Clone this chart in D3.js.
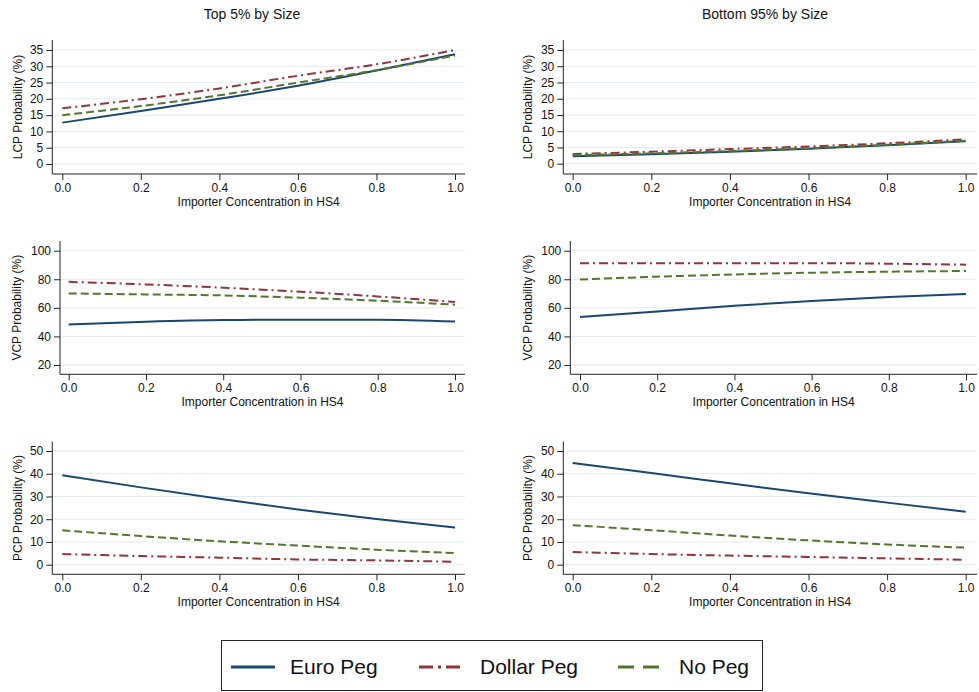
<!DOCTYPE html>
<html>
<head>
<meta charset="utf-8">
<script src="https://cdn.jsdelivr.net/npm/d3@7"></script>
<style>
  body { margin: 0; background: #fff; }
  svg { font-family: "Liberation Sans", Arial, sans-serif; }
</style>
</head>
<body>
<div id="chart"></div>
<script>
// x grid shared by every panel
var concentration = [0, 0.2, 0.4, 0.6, 0.8, 1.0];

// LCP, top 5% / bottom 95%
var lcpTopEuro   = [12.7, 16.3, 20.0, 24.0, 28.7, 33.7];
var lcpTopDollar = [17.1, 19.9, 23.2, 27.1, 30.6, 35.0];
var lcpTopNone   = [15.0, 17.8, 21.1, 25.0, 28.8, 33.3];
var lcpBotEuro   = [2.3, 2.9, 3.7, 4.6, 5.7, 6.9];
var lcpBotDollar = [3.0, 3.7, 4.5, 5.3, 6.3, 7.5];
var lcpBotNone   = [2.6, 3.2, 3.9, 4.8, 5.8, 7.1];

// VCP
var vcpTopEuro   = [48.3, 50.3, 51.5, 51.7, 51.7, 50.4];
var vcpTopDollar = [78.2, 76.4, 74.1, 71.3, 68.0, 64.1];
var vcpTopNone   = [70.1, 69.4, 68.7, 67.1, 65.0, 62.2];
var vcpBotEuro   = [53.6, 57.5, 61.5, 64.8, 67.6, 69.7];
var vcpBotDollar = [91.3, 91.3, 91.3, 91.3, 90.9, 90.2];
var vcpBotNone   = [79.9, 81.8, 83.4, 84.6, 85.3, 85.8];

// PCP
var pcpTopEuro   = [39.3, 34.0, 29.0, 24.3, 20.1, 16.3];
var pcpTopDollar = [4.7, 3.8, 3.1, 2.3, 1.9, 1.3];
var pcpTopNone   = [15.1, 12.6, 10.3, 8.4, 6.6, 5.1];
var pcpBotEuro   = [44.7, 40.3, 35.8, 31.4, 27.3, 23.3];
var pcpBotDollar = [5.6, 4.7, 4.0, 3.4, 2.8, 2.2];
var pcpBotNone   = [17.4, 15.2, 12.8, 10.7, 8.9, 7.5];

// tick values
var xTicks   = [0, 0.2, 0.4, 0.6, 0.8, 1.0];
var lcpTicks = [0, 5, 10, 15, 20, 25, 30, 35];
var vcpTicks = [20, 40, 60, 80, 100];
var pcpTicks = [0, 10, 20, 30, 40, 50];

var seriesNames = ['Euro Peg', 'Dollar Peg', 'No Peg'];
var columnTitles = ['Top 5% by Size', 'Bottom 95% by Size'];
var xTitle = 'Importer Concentration in HS4';

// styles
var colors = {'Euro Peg': '#1a476f', 'Dollar Peg': '#90353b', 'No Peg': '#55752f'};
var dashes = {'Euro Peg': null, 'Dollar Peg': '9,4,2,4', 'No Peg': '8,4'};

var W = 979, H = 692;
var svg = d3.select('#chart').append('svg')
    .attr('width', W)
    .attr('height', H);

/* panel geometry: axis x, x range, y mapping of first/last tick, plot box */
var panels = [
  {title: 'LCP Probability (%)', ticks: lcpTicks, ax: 52.3, x0: 62.3, x1: 455, right: 465,
   yb: 164, yt: 50, top: 40, bottom: 174, titleX: 18,
   data: [lcpTopEuro, lcpTopDollar, lcpTopNone]},
  {title: 'LCP Probability (%)', ticks: lcpTicks, ax: 563.3, x0: 572.7, x1: 965.7, right: 977,
   yb: 163.7, yt: 50, top: 40, bottom: 174, titleX: 528,
   data: [lcpBotEuro, lcpBotDollar, lcpBotNone]},
  {title: 'VCP Probability (%)', ticks: vcpTicks, ax: 60, x0: 68.7, x1: 455, right: 465,
   yb: 365, yt: 250.7, top: 241, bottom: 374.3, titleX: 17,
   data: [vcpTopEuro, vcpTopDollar, vcpTopNone]},
  {title: 'VCP Probability (%)', ticks: vcpTicks, ax: 570.3, x0: 580, x1: 966, right: 977,
   yb: 365, yt: 250.7, top: 241, bottom: 374.3, titleX: 528,
   data: [vcpBotEuro, vcpBotDollar, vcpBotNone]},
  {title: 'PCP Probability (%)', ticks: pcpTicks, ax: 52.3, x0: 62.3, x1: 455, right: 465,
   yb: 564.7, yt: 451, top: 441.7, bottom: 574.3, titleX: 18,
   data: [pcpTopEuro, pcpTopDollar, pcpTopNone]},
  {title: 'PCP Probability (%)', ticks: pcpTicks, ax: 563.3, x0: 572.7, x1: 965.7, right: 977,
   yb: 564.7, yt: 451, top: 441.7, bottom: 574.3, titleX: 528,
   data: [pcpBotEuro, pcpBotDollar, pcpBotNone]}
];

// column titles
svg.selectAll('.col-title')
    .data(columnTitles)
    .enter().append('text')
    .attr('class', 'col-title')
    .attr('x', function(d, i) { return i === 0 ? 252 : 765; })
    .attr('y', 19)
    .attr('text-anchor', 'middle')
    .style('font-size', '14px')
    .attr('fill', '#111')
    .text(function(d) { return d; });

panels.forEach(function(p) {
    var x = d3.scaleLinear().domain([0, 1]).range([p.x0, p.x1]);
    var y = d3.scaleLinear()
        .domain([p.ticks[0], p.ticks[p.ticks.length - 1]])
        .range([p.yb, p.yt]);

    var g = svg.append('g');

    // gridlines
    g.selectAll('.grid')
        .data(p.ticks)
        .enter().append('line')
        .attr('x1', p.ax).attr('x2', p.right)
        .attr('y1', function(d) { return y(d); })
        .attr('y2', function(d) { return y(d); })
        .attr('stroke', '#e4ebef')
        .attr('stroke-width', 1);

    /* y axis */
    var yAxis = d3.axisLeft(y).tickValues(p.ticks).tickSize(6).tickPadding(3).tickSizeOuter(0);
    var ya = g.append('g')
        .attr('transform', 'translate(' + p.ax + ',0)')
        .call(yAxis);
    ya.select('.domain').remove();
    ya.append('line')
        .attr('y1', p.top).attr('y2', p.bottom)
        .attr('stroke', '#222');

    /* x axis */
    var xAxis = d3.axisBottom(x).tickValues(xTicks).tickFormat(d3.format('.1f'))
        .tickSize(6).tickPadding(3).tickSizeOuter(0);
    var xa = g.append('g')
        .attr('transform', 'translate(0,' + p.bottom + ')')
        .call(xAxis);
    xa.select('.domain').remove();
    xa.append('line')
        .attr('x1', p.ax).attr('x2', p.right)
        .attr('stroke', '#222');

    g.selectAll('.tick line').attr('stroke', '#222');
    g.selectAll('.tick text')
        .style('font-size', '12px')
        .style('font-family', '"Liberation Sans", Arial, sans-serif')
        .attr('fill', '#111');

    // axis titles
    g.append('text')
        .attr('transform', 'translate(' + p.titleX + ',' + ((p.top + p.bottom) / 2) + ') rotate(-90)')
        .attr('text-anchor', 'middle')
        .attr('dy', '0.35em')
        .style('font-size', '12px')
        .attr('fill', '#111')
        .text(p.title);

    g.append('text')
        .attr('x', (p.ax + p.right) / 2)
        .attr('y', p.bottom + 32)
        .attr('text-anchor', 'middle')
        .style('font-size', '12px')
        .attr('fill', '#111')
        .text(xTitle);

    // lines
    var line = d3.line()
        .x(function(d, i) { return x(concentration[i]); })
        .y(function(d) { return y(d); })
        .curve(d3.curveMonotoneX);

    p.data.forEach(function(vals, k) {
        var name = seriesNames[k];
        g.append('path')
            .datum(vals)
            .attr('fill', 'none')
            .attr('stroke', colors[name])
            .attr('stroke-width', 2)
            .attr('stroke-dasharray', dashes[name])
            .attr('d', line);
    });
});

/* legend */
var legend = svg.append('g');
legend.append('rect')
    .attr('x', 221.5).attr('y', 640.5)
    .attr('width', 541).attr('height', 50)
    .attr('fill', '#fff')
    .attr('stroke', '#222');

var legendX = [{l: 231, t: 290}, {l: 419, t: 480}, {l: 618, t: 679}];
var legendLen = [44, 46, 42];
seriesNames.forEach(function(name, i) {
    legend.append('line')
        .attr('x1', legendX[i].l).attr('x2', legendX[i].l + legendLen[i])
        .attr('y1', 667).attr('y2', 667)
        .attr('stroke', colors[name])
        .attr('stroke-width', 3)
        .attr('stroke-dasharray', name === 'Dollar Peg' ? '14,5,3,5' : (name === 'No Peg' ? '16,9' : null));
    legend.append('text')
        .attr('x', legendX[i].t)
        .attr('y', 667)
        .attr('dy', '0.35em')
        .style('font-size', '21px')
        .attr('fill', '#111')
        .text(name);
});
</script>
</body>
</html>
